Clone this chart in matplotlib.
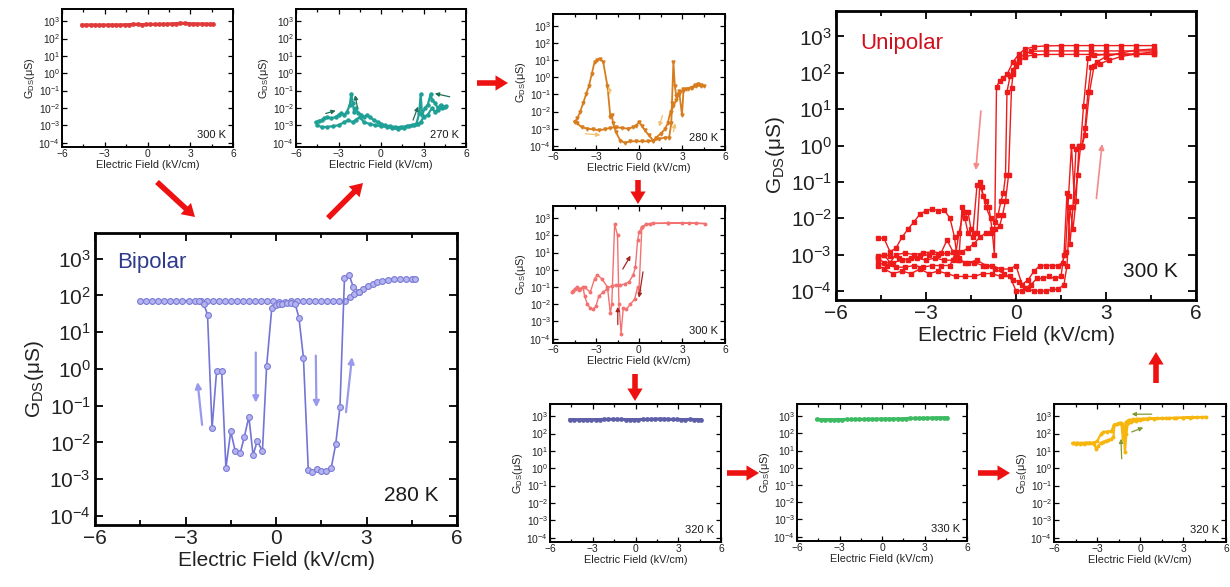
import matplotlib
matplotlib.use("Agg")
import matplotlib.pyplot as plt
from matplotlib.ticker import LogFormatterMathtext, MultipleLocator, NullLocator
from matplotlib.patches import FancyArrowPatch

plt.rcParams['font.family'] = ['Liberation Sans', 'DejaVu Sans']
plt.rcParams['mathtext.default'] = 'regular'

# ---- data ----
FLAT_X = [-4.6, -4.3, -4.0, -3.7, -3.4, -3.1, -2.8, -2.5, -2.2, -1.9, -1.6, -1.3, -1.0, -0.7, -0.4, -0.1,
          0.2, 0.5, 0.8, 1.1, 1.4, 1.7, 2.0, 2.3, 2.6, 2.9, 3.2, 3.5, 3.8, 4.1, 4.4, 4.6]
R300_FLAT = [600, 600, 610, 600, 600, 605, 605, 610, 600, 610, 620, 630, 660, 650, 640, 650,
             660, 650, 660, 670, 680, 700, 720, 760, 740, 720, 700, 700, 690, 680, 680, 680]
B320_FLAT = [640, 640, 630, 640, 640, 630, 640, 640, 650, 660, 660, 650, 650, 640, 640, 640,
             640, 650, 650, 660, 680, 690, 680, 660, 650, 650, 640, 640, 650, 640, 640, 640]
G330_FLAT = [640, 630, 630, 620, 620, 630, 630, 640, 640, 650, 650, 650, 660, 660, 670, 680,
             680, 680, 690, 690, 700, 720, 740, 750, 750, 760, 770, 780, 790, 800, 800, 800]

TEAL_X = [-4.6, -4.4, -4.2, -4.0, -3.8, -3.5, -3.2, -3.0, -2.8, -2.6, -2.4, -2.2, -2.1, -2.0, -1.9, -1.8,
          -1.6, -1.4, -1.2, -1.0, -0.8, -0.5, -0.2, 0.0, 0.3, 0.6, 1.0, 1.4, 1.8, 2.2, 2.5, 2.7, 2.8, 2.9,
          3.1, 3.3, 3.5, 3.6, 3.8, 4.0, 4.2, 4.4, 4.6,
          4.5, 4.3, 4.0, 3.8, 3.6, 3.3, 3.0, 2.8, 2.6, 2.3, 2.0, 1.6, 1.2, 0.8, 0.4, 0.0, -0.4, -0.8,
          -1.2, -1.5, -1.8, -2.0, -2.3, -2.6, -3.0, -3.4, -3.8, -4.2, -4.5]
TEAL_Y = [1.5e-3, 1.8e-3, 2e-3, 2.5e-3, 3e-3, 2.5e-3, 3e-3, 4e-3, 5e-3, 4e-3, 6e-3, 0.015, 0.065, 0.02,
          0.006, 0.01, 0.005, 0.004, 0.003, 0.004, 0.003, 0.002, 0.0015, 0.0012, 0.001, 0.0009, 0.0008,
          0.0008, 0.0009, 0.001, 0.0012, 0.005, 0.06, 0.004, 0.01, 0.015, 0.06, 0.03, 0.02, 0.01, 0.015,
          0.012, 0.013,
          0.012, 0.01, 0.008, 0.006, 0.01, 0.004, 0.003, 0.0015, 0.0012, 0.001, 0.0009, 0.0007, 0.0006,
          0.0007, 0.0008, 0.0009, 0.001, 0.0012, 0.0015, 0.003, 0.002, 0.0015, 0.002, 0.0015, 0.001,
          0.0009, 0.0008, 0.0008, 0.001]
TEAL_ARROWS = [((-3.9, 4.8e-3), (-3.2, 7e-3)), ((-1.67, 1.1e-2), (-1.83, 5.5e-2)),
               ((2.26, 2e-3), (2.62, 1.2e-2)), ((4.85, 4.4e-2), (3.8, 6.8e-2))]

ORANGE_X = [-4.5, -4.3, -4.0, -3.6, -3.2, -2.8, -2.4, -2.0, -1.6, -1.2, -0.8, -0.4, -0.2, 0.0, 0.2, 0.4,
            0.7, 1.0, 1.4, 1.8, 2.1, 2.25, 2.3, 2.4, 2.5, 2.6, 2.8, 3.0, 3.1, 3.3, 3.6, 3.9, 4.1, 4.3, 4.5,
            4.3, 4.0, 3.7, 3.4, 3.1, 2.8, 2.6, 2.4, 2.2, 2.0, 1.8, 1.5, 1.2, 1.0, 0.6, 0.2, -0.2, -0.6,
            -1.0, -1.3, -1.6, -1.8, -1.9, -2.0, -2.2, -2.5, -2.7, -2.9, -3.1, -3.3, -3.5, -3.7, -3.9,
            -4.1, -4.3, -4.5]
ORANGE_Y = [2.5e-3, 2e-3, 1.2e-3, 1e-3, 9e-4, 8e-4, 9e-4, 1.1e-3, 1.2e-3, 1.1e-3, 1e-3, 1.2e-3, 1.5e-3,
            2.5e-3, 1.5e-3, 8e-4, 4e-4, 2e-4, 2.5e-4, 3e-4, 3e-4, 2e-3, 3e-2, 8, 0.3, 0.08, 0.15, 6e-3,
            0.15, 0.2, 0.25, 0.35, 0.4, 0.3, 0.3,
            0.35, 0.3, 0.25, 0.2, 0.2, 0.1, 0.05, 0.02, 1e-2, 2e-3, 9e-4, 5e-4, 3e-4, 2e-4, 1.8e-4,
            1.8e-4, 1.8e-4, 1.8e-4, 1.5e-4, 2e-4, 6e-4, 2e-3, 6e-3, 5e-3, 0.3, 8, 12, 10, 8, 1.5, 0.3,
            0.1, 3e-2, 1e-2, 4e-3, 2.5e-3]
ORANGE_ARROWS = [((-2.03, 0.11), (-2.1, 0.29)), ((-3.74, 5e-4), (-2.69, 4.2e-4)),
                 ((1.64, 6e-3), (1.4, 1.3e-3)), ((2.4, 6.5e-4), (2.52, 2.1e-3))]

PINK_X = [-4.7, -4.5, -4.3, -4.1, -3.9, -3.8, -3.6, -3.4, -3.2, -3.0, -2.8, -2.5, -2.2, -1.9, -1.6, -1.3,
          -1.0, -0.7, -0.4, -0.25, -0.1, 0.0, 0.2, 0.5, 1.0, 2.0, 3.0, 4.0, 4.6,
          3.5, 2.0, 0.8, 0.2, 0.0, -0.1, -0.3, -0.6, -0.9, -1.1, -1.25, -1.4, -1.5, -1.7, -1.9, -2.0,
          -2.2, -2.6, -2.9, -3.1, -3.4, -3.8, -4.2, -4.6]
PINK_Y = [0.05, 0.08, 0.1, 0.08, 0.1, 0.03, 0.01, 6e-3, 5e-3, 8e-3, 0.03, 0.05, 0.08, 0.12, 0.13, 0.13,
          0.15, 0.2, 0.5, 1.5, 50, 150, 300, 450, 500, 500, 520, 500, 480,
          500, 500, 480, 300, 0.07, 0.1, 0.02, 1e-2, 5e-3, 6e-3, 2e-4, 1e-2, 100, 450, 1e-2, 3e-3,
          0.1, 0.3, 0.5, 0.3, 0.05, 0.1, 0.07, 0.06]
PINK_ARROWS = [((-1.13, 1.1), (-0.59, 6.6)), ((0.28, 0.76), (0.0, 0.024)), ((-1.48, 6.6e-4), (-1.48, 7e-3))]

BIP_UP_X = [-4.5, -4.3, -4.1, -3.9, -3.7, -3.5, -3.3, -3.1, -2.9, -2.7, -2.5, -2.3, -2.1, -1.9, -1.7, -1.5,
            -1.3, -1.1, -0.9, -0.7, -0.5, -0.3, -0.1, 0.1, 0.3, 0.5, 0.7, 0.9, 1.1, 1.3, 1.5, 1.7, 1.9,
            2.1, 2.3, 2.45, 2.6, 2.75, 2.9, 3.05, 3.2, 3.35, 3.5, 3.7, 3.9, 4.1, 4.3, 4.5, 4.6]
BIP_UP_Y = [72, 72, 72, 72, 72, 72, 72, 72, 72, 72, 72, 71, 71, 71, 71, 71, 71, 71, 71, 71, 70, 70, 69, 68,
            68, 70, 70, 70, 70, 70, 70, 70, 70, 70, 70, 90, 110, 125, 150, 180, 210, 230, 250, 265, 275,
            280, 280, 280, 275]
BIP_LO_X = [-2.55, -2.4, -2.27, -2.12, -1.97, -1.8, -1.66, -1.5, -1.35, -1.19, -1.05, -0.9, -0.76, -0.62,
            -0.45, -0.31, -0.14, 0.0, 0.1, 0.2, 0.35, 0.5, 0.63, 0.76, 0.91, 1.07, 1.2, 1.35, 1.5, 1.65,
            1.83, 1.98, 2.12, 2.27, 2.43, 2.56, 2.75]
BIP_LO_Y = [70, 60, 30, 0.024, 0.85, 0.85, 2e-3, 0.02, 5.7e-3, 5e-3, 1.4e-2, 0.05, 4.5e-3, 1.1e-2, 5.7e-3,
            1.2, 45, 55, 58, 60, 62, 62, 60, 25, 2, 1.8e-3, 1.6e-3, 1.9e-3, 1.7e-3, 1.7e-3, 2e-3, 9e-3,
            0.09, 300, 350, 170, 125]
BIP_ARROWS = [((-2.45, 0.03), (-2.6, 0.44)), ((-0.67, 2.8), (-0.67, 0.12)),
              ((1.32, 2.3), (1.34, 0.09)), ((2.32, 0.066), (2.52, 2.1))]

UNI_F1_X = [-4.6, -4.4, -4.2, -4.0, -3.8, -3.6, -3.4, -3.2, -3.0, -2.8, -2.6, -2.4, -2.2, -2.05, -1.95, -1.7,
            -1.4, -1.1, -0.8, -0.5, -0.2, 0.0, 0.2, 0.4, 0.6, 0.8, 1.0, 1.2, 1.4, 1.55, 1.65, 1.75, 1.85,
            1.95, 2.05, 2.15, 2.25, 2.4, 2.6, 3.0, 3.5, 4.0, 4.6]
UNI_F1_Y = [2.8e-3, 2.8e-3, 1.2e-3, 1.5e-3, 3e-3, 5e-3, 8e-3, 1.3e-2, 1.6e-2, 1.8e-2, 1.6e-2, 1.7e-2, 1e-2,
            3e-3, 7e-4, 6e-4, 6e-4, 5e-4, 5e-4, 4e-4, 4e-4, 5e-4, 1.5e-4, 2e-4, 3.5e-4, 5e-4, 5e-4, 5e-4,
            5e-4, 6e-4, 1.2e-3, 4e-2, 1.0, 3e-2, 0.15, 0.9, 12, 250, 300, 320, 330, 330, 330]
UNI_F2_X = [-4.6, -4.4, -4.2, -4.0, -3.7, -3.4, -3.1, -2.8, -2.5, -2.3, -2.1, -1.9, -1.6, -1.3, -1.0, -0.7,
            -0.4, -0.1, 0.1, 0.3, 0.5, 0.7, 0.9, 1.1, 1.3, 1.5, 1.6, 1.7, 1.8, 1.9, 2.0, 2.1, 2.2, 2.3,
            2.45, 2.6, 2.8, 3.1, 3.5, 4.0, 4.6]
UNI_F2_Y = [8e-4, 1e-3, 6e-4, 1e-3, 1.1e-3, 1e-3, 1.1e-3, 1.2e-3, 1.1e-3, 2.5e-3, 1.2e-3, 7e-4, 6e-4, 7e-4,
            5e-4, 4e-4, 3e-4, 2e-4, 1.8e-4, 1.2e-4, 1.5e-4, 2.2e-4, 2.2e-4, 2.5e-4, 2.2e-4, 2.5e-4, 1e-3,
            5e-2, 2e-3, 2e-2, 0.8, 1.0, 1.0, 2.0, 30, 150, 180, 220, 280, 330, 380]
UNI_F3_X = [-4.6, -4.4, -4.1, -3.8, -3.5, -3.2, -2.9, -2.6, -2.3, -2.0, -1.7, -1.4, -1.1, -0.8, -0.5, -0.2,
            0.0, 0.2, 0.4, 0.6, 0.8, 1.0, 1.2, 1.4, 1.6, 1.7, 1.8, 1.9, 2.0, 2.1, 2.2, 2.3, 2.4, 2.5, 2.7,
            3.0, 3.5, 4.0, 4.6]
UNI_F3_Y = [5e-4, 4e-4, 3e-4, 3.5e-4, 3e-4, 4e-4, 3e-4, 3.5e-4, 3e-4, 2.5e-4, 2.5e-4, 2.5e-4, 3e-4, 3e-4,
            2.5e-4, 2.5e-4, 1e-4, 1e-4, 1.1e-4, 1e-4, 1e-4, 1e-4, 1.1e-4, 1.1e-4, 1.5e-4, 5e-4, 2e-2, 5e-3,
            3e-2, 1.0, 1.0, 3.0, 30, 140, 200, 280, 350, 420, 450]
UNI_R1_X = [4.6, 4.0, 3.5, 3.0, 2.5, 2.0, 1.5, 1.0, 0.6, 0.3, 0.1, -0.1, -0.3, -0.45, -0.55, -0.65, -0.72,
            -0.8, -0.9, -1.0, -1.1, -1.2, -1.3, -1.4, -1.5, -1.6, -1.7, -1.8, -1.9, -2.1, -2.4, -2.7, -3.0,
            -3.3, -3.6, -3.9, -4.2, -4.4, -4.6]
UNI_R1_Y = [560, 560, 560, 560, 560, 560, 560, 550, 520, 450, 330, 200, 90, 70, 60, 40, 1e-3, 5e-3, 2e-2,
            3e-2, 4e-2, 0.1, 4e-3, 4e-3, 5e-3, 1.5e-2, 1e-2, 2e-2, 8e-4, 7e-4, 7e-4, 8e-4, 7e-4, 8e-4, 7e-4,
            8e-4, 9e-4, 1e-3, 9e-4]
UNI_R2_X = [4.6, 4.0, 3.5, 3.0, 2.5, 2.0, 1.5, 1.0, 0.5, 0.3, 0.1, -0.1, -0.2, -0.3, -0.35, -0.42, -0.5,
            -0.6, -0.7, -0.85, -1.0, -1.15, -1.3, -1.45, -1.6, -1.75, -1.9, -2.0, -2.2, -2.5, -2.8, -3.1,
            -3.4, -3.7, -4.0, -4.3, -4.6]
UNI_R2_Y = [400, 400, 400, 400, 400, 400, 400, 400, 390, 330, 250, 120, 80, 30, 0.15, 0.05, 0.03, 1.2e-2,
            8e-3, 1e-2, 2e-2, 7e-2, 8e-2, 3e-3, 4e-3, 1.5e-2, 4e-3, 1.2e-3, 5e-4, 5e-4, 5e-4, 4.5e-4, 5e-4,
            4.5e-4, 4.5e-4, 5e-4, 6e-4]
UNI_R3_X = [4.6, 4.0, 3.5, 3.0, 2.5, 2.0, 1.5, 1.0, 0.6, 0.3, 0.1, 0.0, -0.1, -0.15, -0.25, -0.35, -0.45,
            -0.55, -0.7, -0.85, -1.0, -1.2, -1.4, -1.6, -1.8, -2.0, -2.3, -2.6, -2.9, -3.2, -3.5, -3.8,
            -4.1, -4.4, -4.6]
UNI_R3_Y = [320, 320, 320, 320, 320, 320, 320, 320, 310, 280, 200, 150, 90, 37, 0.15, 0.03, 1.2e-2, 6e-3,
            5e-3, 4e-3, 4e-3, 3e-3, 2e-3, 1.5e-3, 1.2e-3, 1e-3, 1.1e-3, 1e-3, 1e-3, 9e-4, 8e-4, 7e-4, 6e-4,
            6e-4, 8e-4]
UNI_ARROWS = [((-1.17, 8.9), (-1.34, 0.21)), ((2.68, 0.035), (2.87, 1.1))]

YEL_X = [-4.7, -4.4, -4.1, -3.8, -3.5, -3.2, -3.05, -2.9, -2.7, -2.6, -2.4, -2.2, -2.0, -1.85, -1.8, -1.6,
         -1.4, -1.25, -1.15, -1.05, -0.95, -0.85, -0.6, -0.3, 0.0, 0.5, 1.0, 1.5, 2.0, 2.5, 3.0, 3.5, 4.0,
         4.6, 4.3, 3.6, 3.0, 2.4, 1.8, 1.2, 0.6, 0.2, -0.2, -0.5, -0.8, -1.0, -1.1, -1.2, -1.3, -1.5, -1.8,
         -2.0, -2.3, -2.55, -2.7, -3.0, -3.3, -3.6, -3.9, -4.2, -4.5, -4.7]
YEL_Y = [28, 30, 28, 30, 30, 25, 12, 20, 30, 32, 38, 40, 50, 63, 300, 350, 380, 360, 240, 8.5, 100, 380,
         450, 520, 600, 680, 720, 750, 760, 780, 800, 820, 850, 900, 880, 850, 820, 800, 780, 760, 740, 720,
         700, 650, 600, 450, 60, 50, 400, 380, 330, 140, 130, 125, 100, 35, 30, 28, 25, 25, 26, 27]
YEL_ARROWS = [((0.82, 1300), (-0.58, 1300)), ((-0.58, 123), (0.23, 220)), ((-1.28, 3.5), (-1.33, 50))]

YTICKS = [1e-4, 1e-3, 1e-2, 1e-1, 1e0, 1e1, 1e2, 1e3]
XTICKS = [-6, -3, 0, 3, 6]

# figure-pixel positions of the big red flow arrows (x, y from top)
FLOW_ARROWS = [((157, 182), (195, 217)), ((328, 218), (363, 183)), ((477, 83), (508, 83)),
               ((638, 180), (638, 204)), ((635, 374), (635, 401)), ((727, 473), (759, 473)),
               ((978, 473), (1010, 473)), ((1156, 383), (1156, 352))]

W, H = 1230, 587
fig = plt.figure(figsize=(W / 100, H / 100), dpi=100)


def add_panel(px, big=False):
    x0, y0, x1, y1 = px
    ax = fig.add_axes([x0 / W, 1 - y1 / H, (x1 - x0) / W, (y1 - y0) / H])
    ax.set_yscale('log')
    ax.set_ylim(10 ** -4.25, 10 ** 3.7)
    ax.set_xlim(-6, 6)
    ax.set_xticks(XTICKS)
    ax.set_yticks(YTICKS)
    ax.yaxis.set_major_formatter(LogFormatterMathtext())
    ax.yaxis.set_minor_locator(NullLocator())
    ax.xaxis.set_minor_locator(MultipleLocator(1.5))
    fs = 15 if big else 7.4
    ax.tick_params(which='both', direction='in', top=True, right=True, labelsize=fs,
                   width=1.3 if big else 0.9, pad=3 if big else 1.5, labelcolor='#222222')
    ax.tick_params(which='major', length=6 if big else 3.5)
    ax.tick_params(which='minor', length=3.5 if big else 2)
    for s in ax.spines.values():
        s.set_linewidth(2.0 if big else 1.4)
    ax.set_xlabel('Electric Field (kV/cm)', fontsize=15 if big else 7.8, labelpad=2 if big else 1,
                  color='#222222')
    ax.set_ylabel('G$_\\mathregular{DS}$(μS)', fontsize=15 if big else 7.8, labelpad=2 if big else 1,
                  color='#222222')
    return ax


def temp_label(ax, txt, big=False):
    ax.text(0.95 if big else 0.96, 0.1 if big else 0.085, txt, transform=ax.transAxes, ha='right',
            va='center', fontsize=15 if big else 8, color='#1a1a1a')


def small_arrows(ax, arrows, color, ms=6, lw=0.9):
    for start, end in arrows:
        ax.annotate('', xy=end, xytext=start,
                    arrowprops=dict(arrowstyle='-|>', color=color, lw=lw, mutation_scale=ms,
                                    shrinkA=0, shrinkB=0))


# 300 K red (top left)
ax = add_panel((62, 9, 233, 147))
ax.plot(FLAT_X, R300_FLAT, '-o', color='#e03a3a', lw=2.2, ms=2.4)
temp_label(ax, '300 K')

# 270 K teal
ax = add_panel((296, 9, 466, 147))
ax.plot(TEAL_X, TEAL_Y, '-o', color='#1fa096', lw=1.6, ms=2.2)
small_arrows(ax, TEAL_ARROWS, '#1f6e58')
temp_label(ax, '270 K')

# 280 K orange
ax = add_panel((553, 14, 725, 150))
ax.plot(ORANGE_X, ORANGE_Y, '-v', color='#d77d1e', lw=1.3, ms=2.2)
small_arrows(ax, ORANGE_ARROWS, '#f2c070')
temp_label(ax, '280 K')

# 300 K pink
ax = add_panel((553, 206, 725, 343))
ax.plot(PINK_X, PINK_Y, '-o', color='#f27272', lw=1.0, ms=1.8)
small_arrows(ax, PINK_ARROWS, '#a52525')
temp_label(ax, '300 K')

# Bipolar 280 K
ax = add_panel((95, 233, 457, 525), big=True)
ax.plot(BIP_UP_X, BIP_UP_Y, '-o', color='#7474d6', lw=1.2, ms=4.2, mfc='#b4b4f0', mec='#7a7ad6', mew=0.8)
ax.plot(BIP_LO_X, BIP_LO_Y, '-o', color='#7474d6', lw=1.2, ms=4.2, mfc='#b4b4f0', mec='#7a7ad6', mew=0.8)
small_arrows(ax, BIP_ARROWS, '#9a9aec', ms=9, lw=1.6)
ax.text(0.06, 0.9, 'Bipolar', transform=ax.transAxes, fontsize=16, color='#2e3a8c', va='center')
temp_label(ax, '280 K', big=True)

# Unipolar 300 K
ax = add_panel((836, 11, 1196, 300), big=True)
for xs, ys in [(UNI_F1_X, UNI_F1_Y), (UNI_F2_X, UNI_F2_Y), (UNI_F3_X, UNI_F3_Y),
               (UNI_R1_X, UNI_R1_Y), (UNI_R2_X, UNI_R2_Y), (UNI_R3_X, UNI_R3_Y)]:
    ax.plot(xs, ys, '-s', color='#ef1a1a', lw=1.0, ms=2.3)
small_arrows(ax, UNI_ARROWS, '#f48a8a', ms=8, lw=1.2)
ax.text(0.067, 0.888, 'Unipolar', transform=ax.transAxes, fontsize=16, color='#d0101c', va='center')
temp_label(ax, '300 K', big=True)

# 320 K blue
ax = add_panel((550, 404, 721, 542))
ax.plot(FLAT_X, B320_FLAT, '-o', color='#5d5fa8', lw=2.2, ms=2.4)
temp_label(ax, '320 K')

# 330 K green
ax = add_panel((797, 404, 967, 541))
ax.plot(FLAT_X, G330_FLAT, '-o', color='#3dbb62', lw=2.2, ms=2.4)
temp_label(ax, '330 K')

# 320 K yellow
ax = add_panel((1054, 404, 1226, 542))
ax.plot(YEL_X, YEL_Y, '-o', color='#f6b60e', lw=1.6, ms=1.8)
small_arrows(ax, YEL_ARROWS, '#7f9a30')
temp_label(ax, '320 K')

# overlay for the red flow arrows
ov = fig.add_axes([0, 0, 1, 1], zorder=10)
ov.set_xlim(0, W)
ov.set_ylim(H, 0)
ov.axis('off')
ov.patch.set_visible(False)
for start, end in FLOW_ARROWS:
    ov.add_patch(FancyArrowPatch(start, end, arrowstyle='simple,head_width=0.55,head_length=0.45,tail_width=0.2',
                                 mutation_scale=20, color='#ee1111', lw=0, shrinkA=0, shrinkB=0))

fig.savefig('out.png', dpi=100)
